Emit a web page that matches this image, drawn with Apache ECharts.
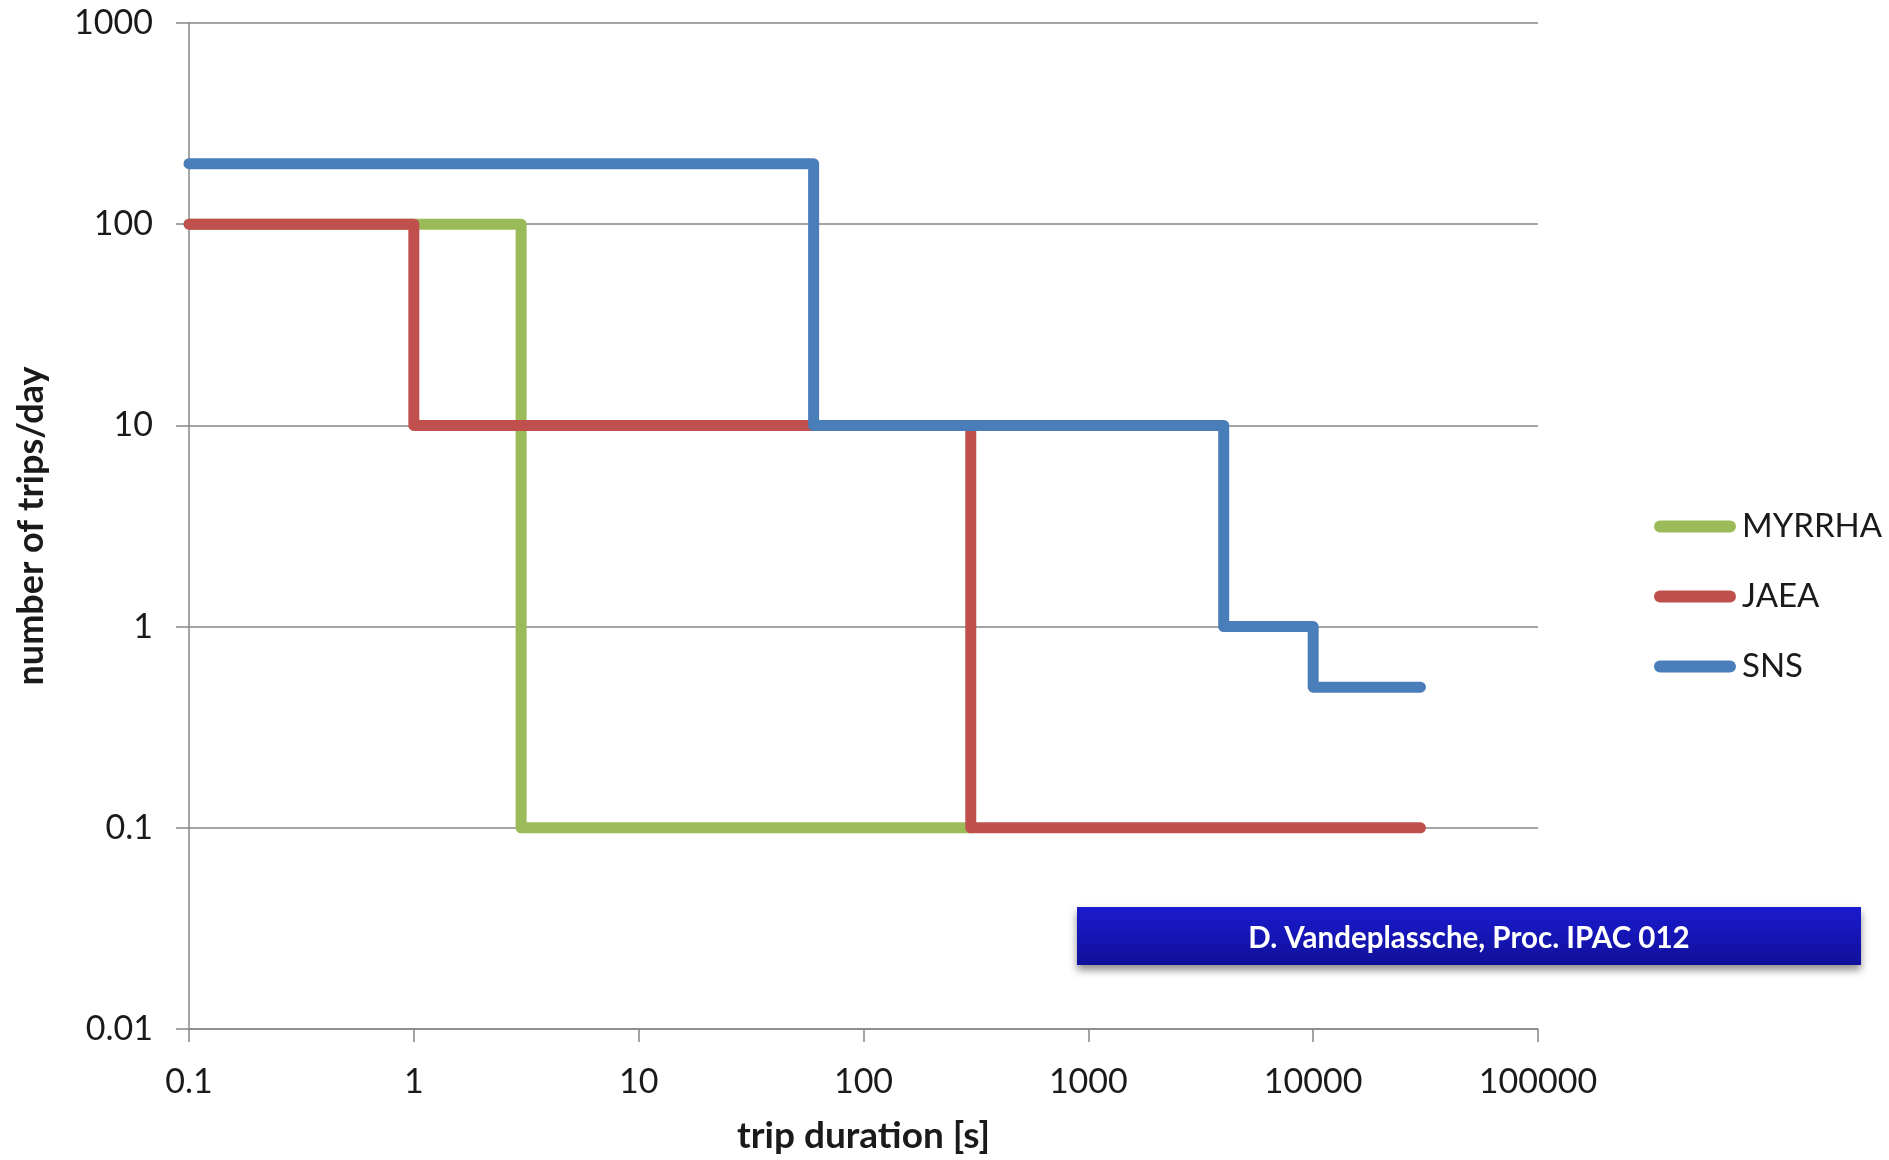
<!DOCTYPE html>
<html>
<head>
<meta charset="utf-8">
<script src="https://cdn.jsdelivr.net/npm/echarts@6/dist/echarts.min.js"></script>
<style>
  html, body { margin: 0; padding: 0; background: #fff; }
  #chart { width: 1889px; height: 1160px; }
</style>
</head>
<body>
<div id="chart"></div>
<script>
// step breakpoints: trip duration [s] -> allowed trips/day (held until next breakpoint)
var seriesNames = ['MYRRHA', 'JAEA', 'SNS'];
var myrrhaDuration = [0.1, 3, 300];
var myrrhaTrips = [100, 0.1, 0.1];
var jaeaDuration = [0.1, 1, 300, 30000];
var jaeaTrips = [100, 10, 0.1, 0.1];
var snsDuration = [0.1, 60, 4000, 10000, 30000];
var snsTrips = [200, 10, 1, 0.5, 0.5];

var xTickLabels = ['0.1', '1', '10', '100', '1000', '10000', '100000'];
var yTickLabels = ['0.01', '0.1', '1', '10', '100', '1000'];

var colors = ['#9bbb59', '#c0504d', '#4a7ebb'];
var font = 'Lato, "Open Sans", sans-serif';

function pairs(xs, ys) {
  return xs.map(function (x, i) { return [x, ys[i]]; });
}

function tickLabel(list) {
  var first = Math.log10(Number(list[0]));
  return function (v) {
    var i = Math.round(Math.log10(v) - first);
    return list[i] !== undefined ? list[i] : '';
  };
}

var chart = echarts.init(document.getElementById('chart'), null, { renderer: 'canvas' });

var lineStyle = function (c) {
  return { color: c, width: 11, cap: 'round', join: 'round' };
};

var legendIcon = 'path://M6,0 H76 A6,6 0 0 1 76,12 H6 A6,6 0 0 1 6,0 Z';

var option = {
  animation: false,
  color: colors,
  grid: { left: 189, top: 23, right: 351, bottom: 125 },
  legend: {
    orient: 'vertical',
    left: 1649,
    top: 505,
    itemWidth: 82,
    itemHeight: 12,
    itemGap: 37,
    icon: legendIcon,
    data: seriesNames,
    textStyle: { fontFamily: font, fontSize: 33, color: '#1a1a1a', padding: [0, 0, 0, 1] }
  },
  xAxis: {
    type: 'log',
    logBase: 10,
    min: 0.1,
    max: 100000,
    name: 'trip duration [s]',
    nameLocation: 'middle',
    nameGap: 89,
    nameTextStyle: { fontFamily: font, fontSize: 37, fontWeight: 'bold', color: '#1a1a1a' },
    axisLine: { lineStyle: { color: '#868686', width: 1.5 } },
    axisTick: { show: true, length: 13, lineStyle: { color: '#868686', width: 1.5 } },
    axisLabel: { fontFamily: font, fontSize: 34, color: '#1a1a1a', margin: 36, formatter: tickLabel(xTickLabels) },
    minorTick: { show: false },
    splitLine: { show: false }
  },
  yAxis: {
    type: 'log',
    logBase: 10,
    min: 0.01,
    max: 1000,
    name: 'number of trips/day',
    nameLocation: 'middle',
    nameGap: 140,
    nameTextStyle: { fontFamily: font, fontSize: 36, fontWeight: 'bold', color: '#1a1a1a' },
    axisLine: { show: true, lineStyle: { color: '#868686', width: 1.5 } },
    axisTick: { show: true, length: 13, lineStyle: { color: '#868686', width: 1.5 } },
    axisLabel: { fontFamily: font, fontSize: 34, color: '#1a1a1a', margin: 36, formatter: tickLabel(yTickLabels) },
    splitLine: { show: true, lineStyle: { color: '#868686', width: 1.5 } }
  },
  series: [
    { name: seriesNames[0], type: 'line', step: 'end', showSymbol: false, data: pairs(myrrhaDuration, myrrhaTrips), lineStyle: lineStyle(colors[0]) },
    { name: seriesNames[1], type: 'line', step: 'end', showSymbol: false, data: pairs(jaeaDuration, jaeaTrips), lineStyle: lineStyle(colors[1]) },
    { name: seriesNames[2], type: 'line', step: 'end', showSymbol: false, data: pairs(snsDuration, snsTrips), lineStyle: lineStyle(colors[2]) }
  ],
  graphic: [
    {
      type: 'group',
      left: 1077,
      top: 907,
      children: [
        {
          type: 'rect',
          shape: { x: 0, y: 0, width: 784, height: 58 },
          style: {
            fill: new echarts.graphic.LinearGradient(0, 0, 0, 1, [
              { offset: 0, color: '#1b1bd0' },
              { offset: 1, color: '#10109a' }
            ]),
            shadowBlur: 8,
            shadowOffsetY: 5,
            shadowColor: 'rgba(0,0,0,0.45)'
          }
        },
        {
          type: 'text',
          x: 392,
          y: 31,
          style: {
            text: 'D. Vandeplassche, Proc. IPAC 012',
            fill: '#ffffff',
            font: 'bold 29.5px ' + font,
            align: 'center',
            verticalAlign: 'middle'
          }
        }
      ]
    }
  ]
};

chart.setOption(option);
</script>
</body>
</html>
